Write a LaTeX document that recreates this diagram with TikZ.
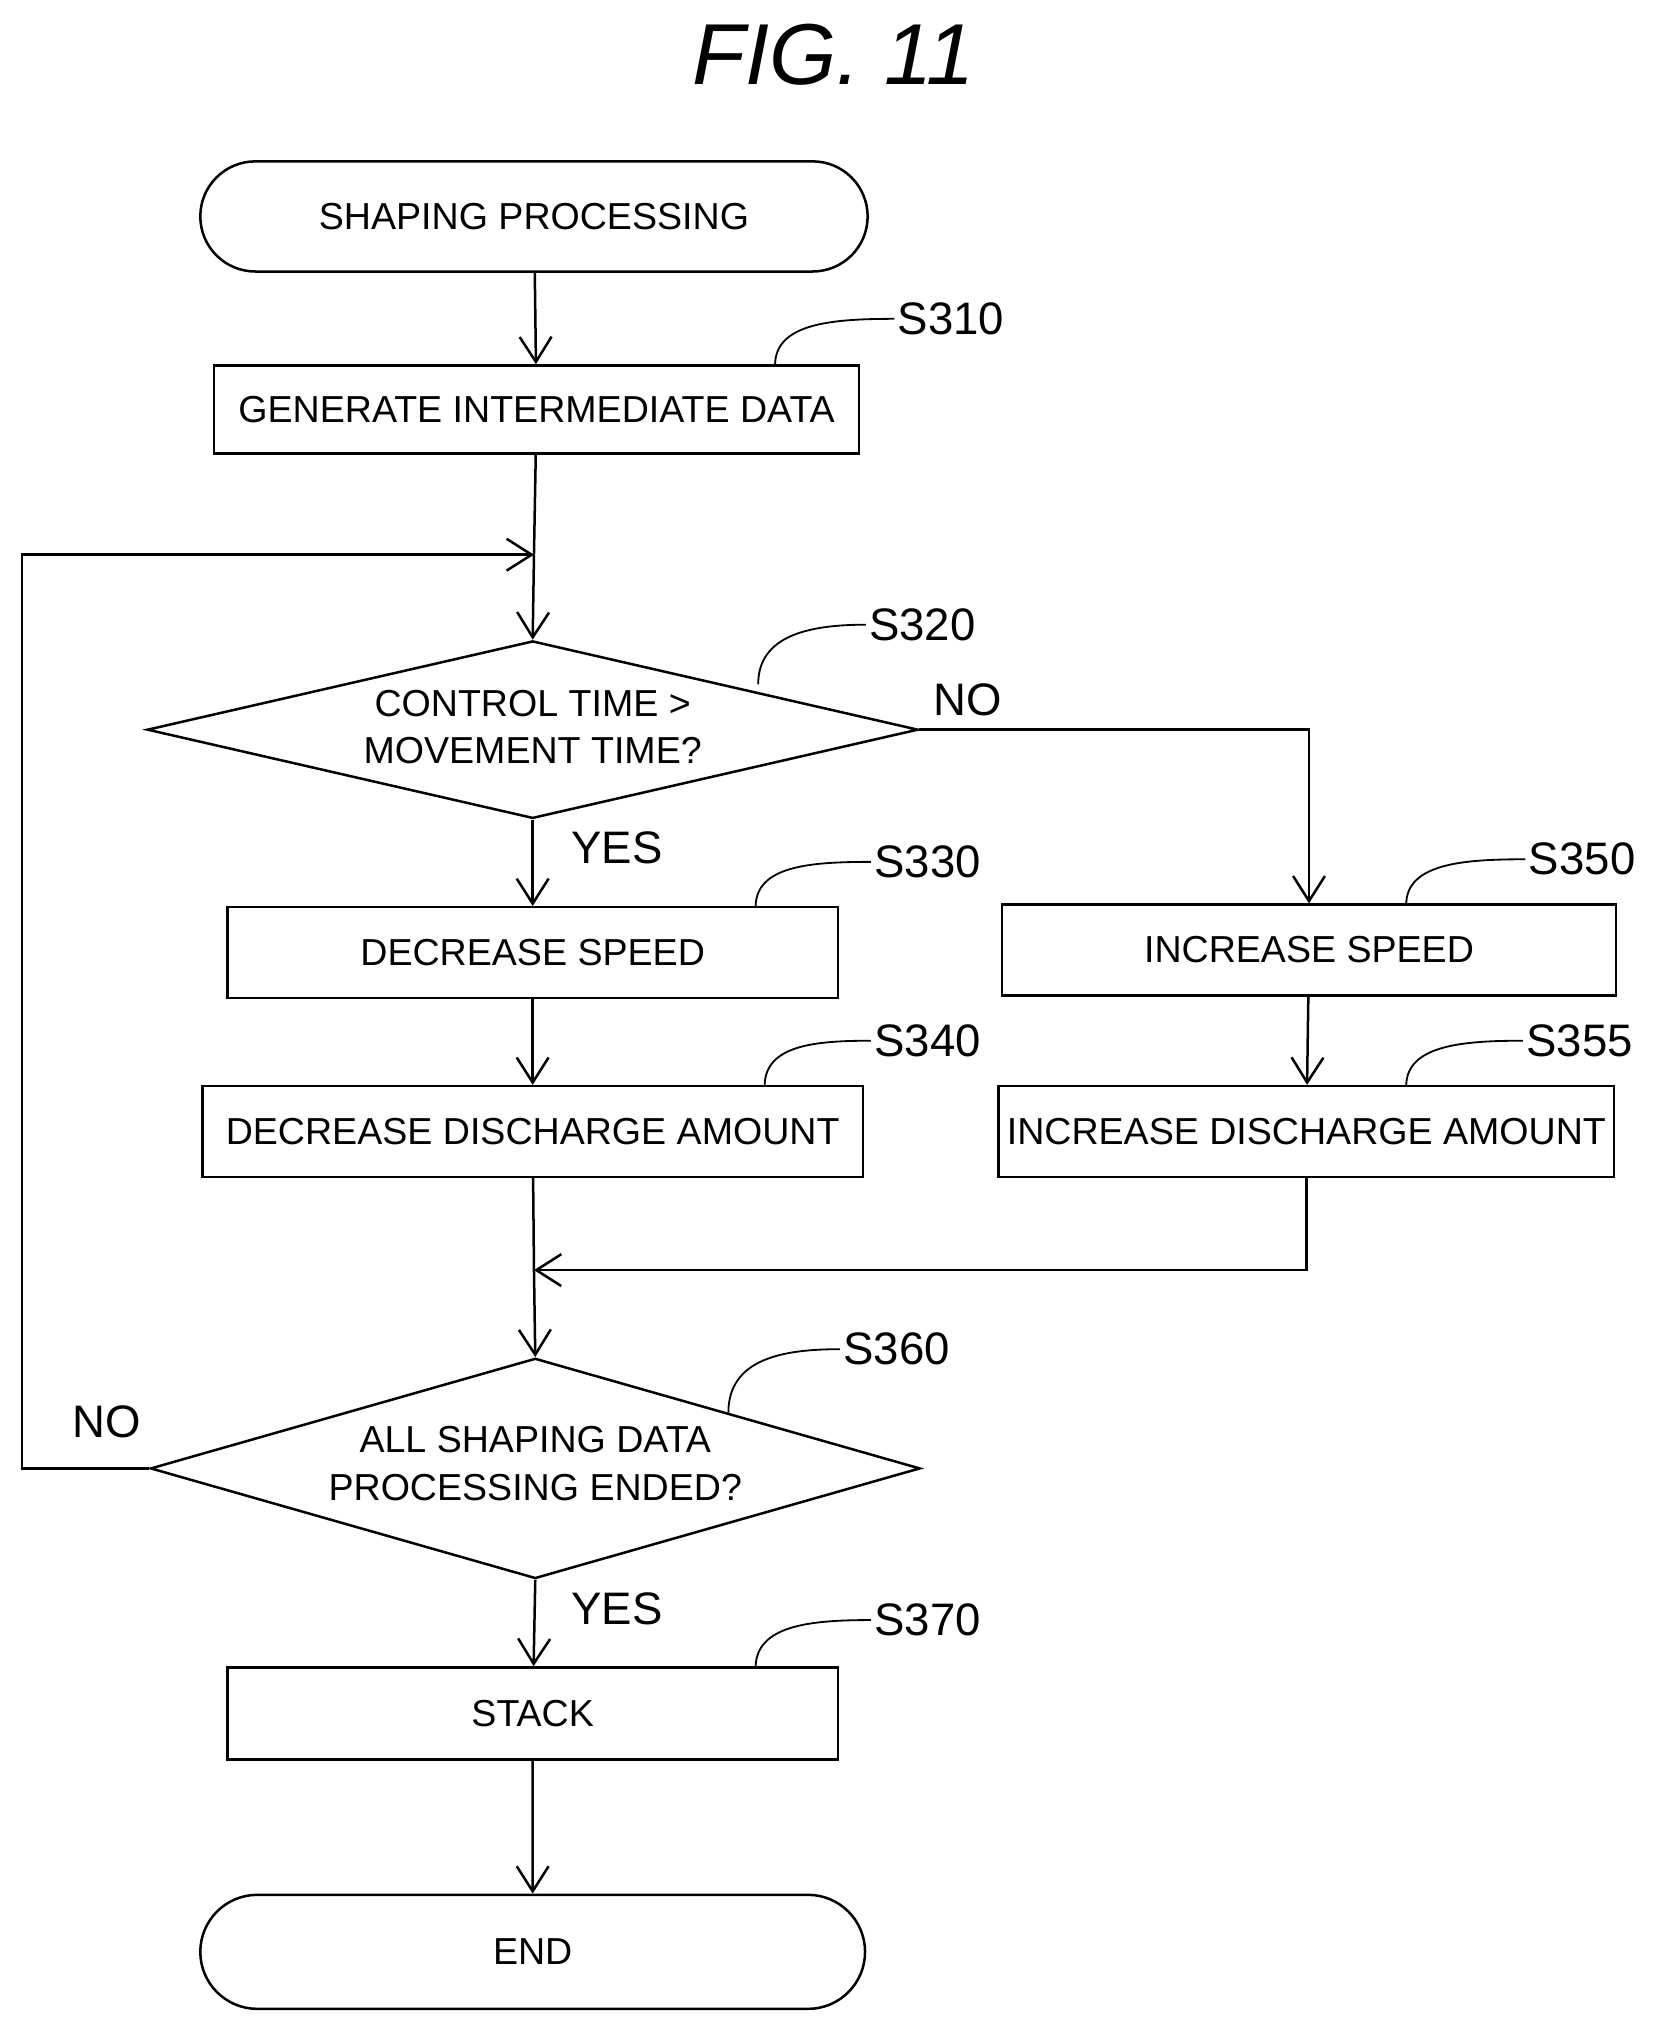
\documentclass[tikz,border=0pt]{standalone}
\usepackage{fontspec}
\setmainfont{Liberation Sans}
\usetikzlibrary{arrows.meta,shapes.geometric,shapes.misc}
\begin{document}
\begin{tikzpicture}[x=0.02cm,y=-0.02cm,
  line width=1.1pt,
  box/.style={draw,rectangle,inner sep=0pt,font=\fontsize{16.5}{18}\selectfont},
  term/.style={draw,rounded rectangle,inner sep=0pt,font=\fontsize{16.5}{18}\selectfont},
  dia/.style={draw,diamond,inner sep=0pt},
  txt/.style={font=\fontsize{16.5}{21}\selectfont,align=center},
  lab/.style={font=\fontsize{20}{22}\selectfont,anchor=west,inner sep=1pt},
  yn/.style={font=\fontsize{20}{22}\selectfont},
  arr/.style={-{Straight Barb[length=11pt,width=14pt]}},
  lead/.style={line width=0.8pt}]
\useasboundingbox (0,0) rectangle (1280,1564);
\node[font=\fontsize{38}{40}\selectfont\itshape] (title) at (643,42) {FIG. 11};
\node[term,minimum width=10.3cm,minimum height=1.7cm] (start) at (412,167) {SHAPING PROCESSING};
\node[box,minimum width=9.96cm,minimum height=1.36cm] (s310) at (414,316) {GENERATE INTERMEDIATE DATA};
\coordinate (m1) at (412,428);
\node[dia,minimum width=11.9cm,minimum height=2.74cm] (d1) at (411,563) {};
\node[txt] (d1t) at (411,561) {CONTROL TIME >\\MOVEMENT TIME?};
\node[box,minimum width=9.42cm,minimum height=1.4cm] (s330) at (411,735) {DECREASE SPEED};
\node[box,minimum width=10.2cm,minimum height=1.4cm] (s340) at (411,873) {DECREASE DISCHARGE AMOUNT};
\node[box,minimum width=9.48cm,minimum height=1.4cm] (s350) at (1010,733) {INCREASE SPEED};
\node[box,minimum width=9.5cm,minimum height=1.4cm] (s355) at (1008,873) {INCREASE DISCHARGE AMOUNT};
\coordinate (m2) at (412,980);
\node[dia,minimum width=11.88cm,minimum height=3.4cm] (d2) at (413,1133) {};
\node[txt] (d2t) at (413,1129) {ALL SHAPING DATA\\PROCESSING ENDED?};
\node[box,minimum width=9.42cm,minimum height=1.42cm] (s370) at (411,1322) {STACK};
\node[term,minimum width=10.26cm,minimum height=1.76cm] (end) at (411,1506) {END};
% labels
\node[lab] (l310) at (690,246) {S310};
\node[lab] (l320) at (668,482) {S320};
\node[lab] (l330) at (672,665) {S330};
\node[lab] (l340) at (672,803) {S340};
\node[lab] (l350) at (1177,663) {S350};
\node[lab] (l355) at (1175,803) {S355};
\node[lab] (l360) at (648,1041) {S360};
\node[lab] (l370) at (672,1250) {S370};
\node[yn] (no1) at (747,540) {NO};
\node[yn] (yes1) at (476,654) {YES};
\node[yn] (no2) at (82,1097) {NO};
\node[yn] (yes2) at (476,1241) {YES};
% leaders
\draw[lead] (598,282) .. controls (598,250) and (640,246) .. (l310.west);
\draw[lead] (585,528) .. controls (585,490) and (625,482) .. (l320.west);
\draw[lead] (583,700) .. controls (583,668) and (625,665) .. (l330.west);
\draw[lead] (590,838) .. controls (590,806) and (630,803) .. (l340.west);
\draw[lead] (1085,698) .. controls (1085,666) and (1130,663) .. (l350.west);
\draw[lead] (1085,838) .. controls (1085,806) and (1130,803) .. (l355.west);
\draw[lead] (562,1090) .. controls (562,1048) and (605,1041) .. (l360.west);
\draw[lead] (583,1287) .. controls (583,1254) and (625,1250) .. (l370.west);
% connectors
\draw[arr] (start) -- (s310);
\draw (s310) -- (m1);
\draw[arr] (m1) -- (d1.north);
\draw[arr] (d1.south) -- (s330);
\draw[arr] (d1.east) -| (s350.north);
\draw[arr] (s330) -- (s340);
\draw[arr] (s350) -- (s355);
\draw (s340) -- (m2);
\draw[arr] (s355.south) |- (m2);
\draw[arr] (m2) -- (d2.north);
\draw[arr] (d2.west) -- (17,1133) |- (m1);
\draw[arr] (d2.south) -- (s370);
\draw[arr] (s370) -- (end);
\end{tikzpicture}
\end{document}
